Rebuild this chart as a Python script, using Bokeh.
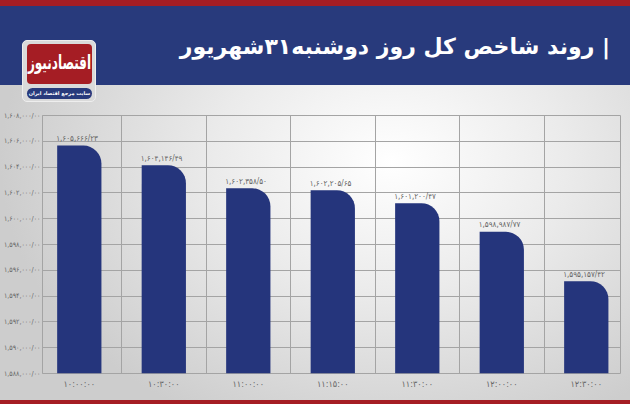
from bokeh.plotting import figure
from bokeh.models import Range1d, FixedTicker, ColumnDataSource, Div
from bokeh.layouts import column
from bokeh.core.properties import value
from bokeh.embed import file_html
from bokeh.resources import INLINE

# ---- data ----
times = ["۱۰:۰۰:۰۰", "۱۰:۳۰:۰۰", "۱۱:۰۰:۰۰", "۱۱:۱۵:۰۰", "۱۱:۳۰:۰۰", "۱۲:۰۰:۰۰", "۱۲:۳۰:۰۰"]
index_values = [1605666.23, 1604146.49, 1602358.50, 1602205.65, 1601200.47, 1598987.77, 1595157.42]
value_labels = ["۱,۶۰۵,۶۶۶/۲۳", "۱,۶۰۴,۱۴۶/۴۹", "۱,۶۰۲,۳۵۸/۵۰", "۱,۶۰۲,۲۰۵/۶۵",
                "۱,۶۰۱,۲۰۰/۴۷", "۱,۵۹۸,۹۸۷/۷۷", "۱,۵۹۵,۱۵۷/۴۲"]
y_ticks = [1588000, 1590000, 1592000, 1594000, 1596000, 1598000,
           1600000, 1602000, 1604000, 1606000, 1608000]
y_tick_labels = ["۱,۵۸۸,۰۰۰/۰۰", "۱,۵۹۰,۰۰۰/۰۰", "۱,۵۹۲,۰۰۰/۰۰", "۱,۵۹۴,۰۰۰/۰۰",
                 "۱,۵۹۶,۰۰۰/۰۰", "۱,۵۹۸,۰۰۰/۰۰", "۱,۶۰۰,۰۰۰/۰۰", "۱,۶۰۲,۰۰۰/۰۰",
                 "۱,۶۰۴,۰۰۰/۰۰", "۱,۶۰۶,۰۰۰/۰۰", "۱,۶۰۸,۰۰۰/۰۰"]
title_text = "روند شاخص کل روز دوشنبه۳۱شهریور"
logo_text = "اقتصادنیوز"
logo_sub = "سایت مرجع اقتصاد ایران"

BLUE = "#283a7c"
BAR = "#25357c"
RED = "#a51d24"
GRID = "#a4a4a4"
TXT = "#666666"
FA = "DejaVu Sans"
FAC = "DejaVu Sans Condensed"

xs = list(range(len(times)))
bar_w = 0.524

# ---- header (title + logo) ----
box = "position:absolute;box-sizing:border-box;display:flex;align-items:center;justify-content:center;"
header_html = f"""
<div style="position:relative;width:630px;height:104px;margin:0;padding:0;font-family:'{FA}';">
  <div style="{box}right:20px;top:31px;height:32px;color:#ffffff;font-weight:bold;
       font-size:22px;white-space:nowrap;"><span dir="rtl">|&nbsp;{title_text}</span></div>
  <div style="{box}left:22px;top:40px;width:74px;height:62px;background:#dadada;
       border-radius:5px;border:1px solid #eeeeee;"></div>
  <div style="{box}left:27px;top:44px;width:65px;height:40px;background:{RED};
       border-radius:4px;color:#ffffff;font-weight:bold;font-size:12px;white-space:nowrap;">
       <span dir="rtl" style="display:inline-block;transform:scale(1,1.6);">{logo_text}</span></div>
  <div style="{box}left:27px;top:88px;width:65px;height:11px;background:{BLUE};
       border-radius:6px;color:#ffffff;font-weight:bold;font-size:5px;white-space:nowrap;">
       <span dir="rtl">{logo_sub}</span></div>
</div>
"""
header = Div(text=header_html, width=630, height=104, margin=0)

# ---- chart ----
p = figure(width=630, height=300, output_backend="svg", toolbar_location=None,
           x_range=Range1d(-0.4355, 6.405), y_range=Range1d(y_ticks[0], y_ticks[-1]),
           min_border_left=42, min_border_right=10, min_border_top=11, min_border_bottom=31,
           margin=0)
p.border_fill_color = None
p.background_fill_color = None
p.outline_line_color = GRID
p.outline_line_width = 1

p.ygrid.ticker = FixedTicker(ticks=y_ticks)
p.ygrid.grid_line_color = GRID
p.xgrid.ticker = FixedTicker(ticks=[i + 0.5 for i in xs[:-1]])
p.xgrid.grid_line_color = GRID

p.xaxis.ticker = FixedTicker(ticks=xs)
p.xaxis.major_label_overrides = {i: t for i, t in zip(xs, times)}
p.xaxis.axis_line_color = None
p.xaxis.major_tick_line_color = None
p.xaxis.minor_tick_line_color = None
p.xaxis.major_tick_out = 0
p.xaxis.major_tick_in = 0
p.xaxis.major_label_standoff = 5
p.xaxis.major_label_text_font = FAC
p.xaxis.major_label_text_font_size = "9px"
p.xaxis.major_label_text_color = TXT

p.yaxis.ticker = FixedTicker(ticks=y_ticks)
p.yaxis.major_label_overrides = {t: s for t, s in zip(y_ticks, y_tick_labels)}
p.yaxis.axis_line_color = GRID
p.yaxis.major_tick_line_color = None
p.yaxis.minor_tick_line_color = None
p.yaxis.major_tick_out = 0
p.yaxis.major_tick_in = 0
p.yaxis.major_label_standoff = 2
p.yaxis.major_label_text_font = FAC
p.yaxis.major_label_text_font_size = "7px"
p.yaxis.major_label_text_color = TXT

src = ColumnDataSource(dict(x=xs, top=index_values, label=value_labels,
                            lx=[x - bar_w / 2 for x in xs]))
p.vbar(x="x", top="top", bottom=y_ticks[0], width=bar_w, source=src,
       fill_color=BAR, line_color=None, border_radius=(0, 18, 0, 0))
p.text(x="lx", y="top", text="label", source=src, text_align="left",
       text_baseline="alphabetic", y_offset=-7, x_offset=-1,
       text_font=value(FAC), text_font_size="8px", text_color=TXT)

layout = column(header, p, spacing=0, margin=0)
layout.styles = {
    "background": (
        f"linear-gradient(to bottom, {RED} 0px, {RED} 6px, {BLUE} 6px, {BLUE} 85px, "
        f"rgba(0,0,0,0) 85px, rgba(0,0,0,0) 400px, {RED} 400px, {RED} 404px), "
        "radial-gradient(ellipse 62% 72% at 62% 40%, #ffffff 0%, #ebebeb 45%, #cdcdcd 100%)"
    )
}

open("out.html", "w").write(file_html(layout, INLINE))
